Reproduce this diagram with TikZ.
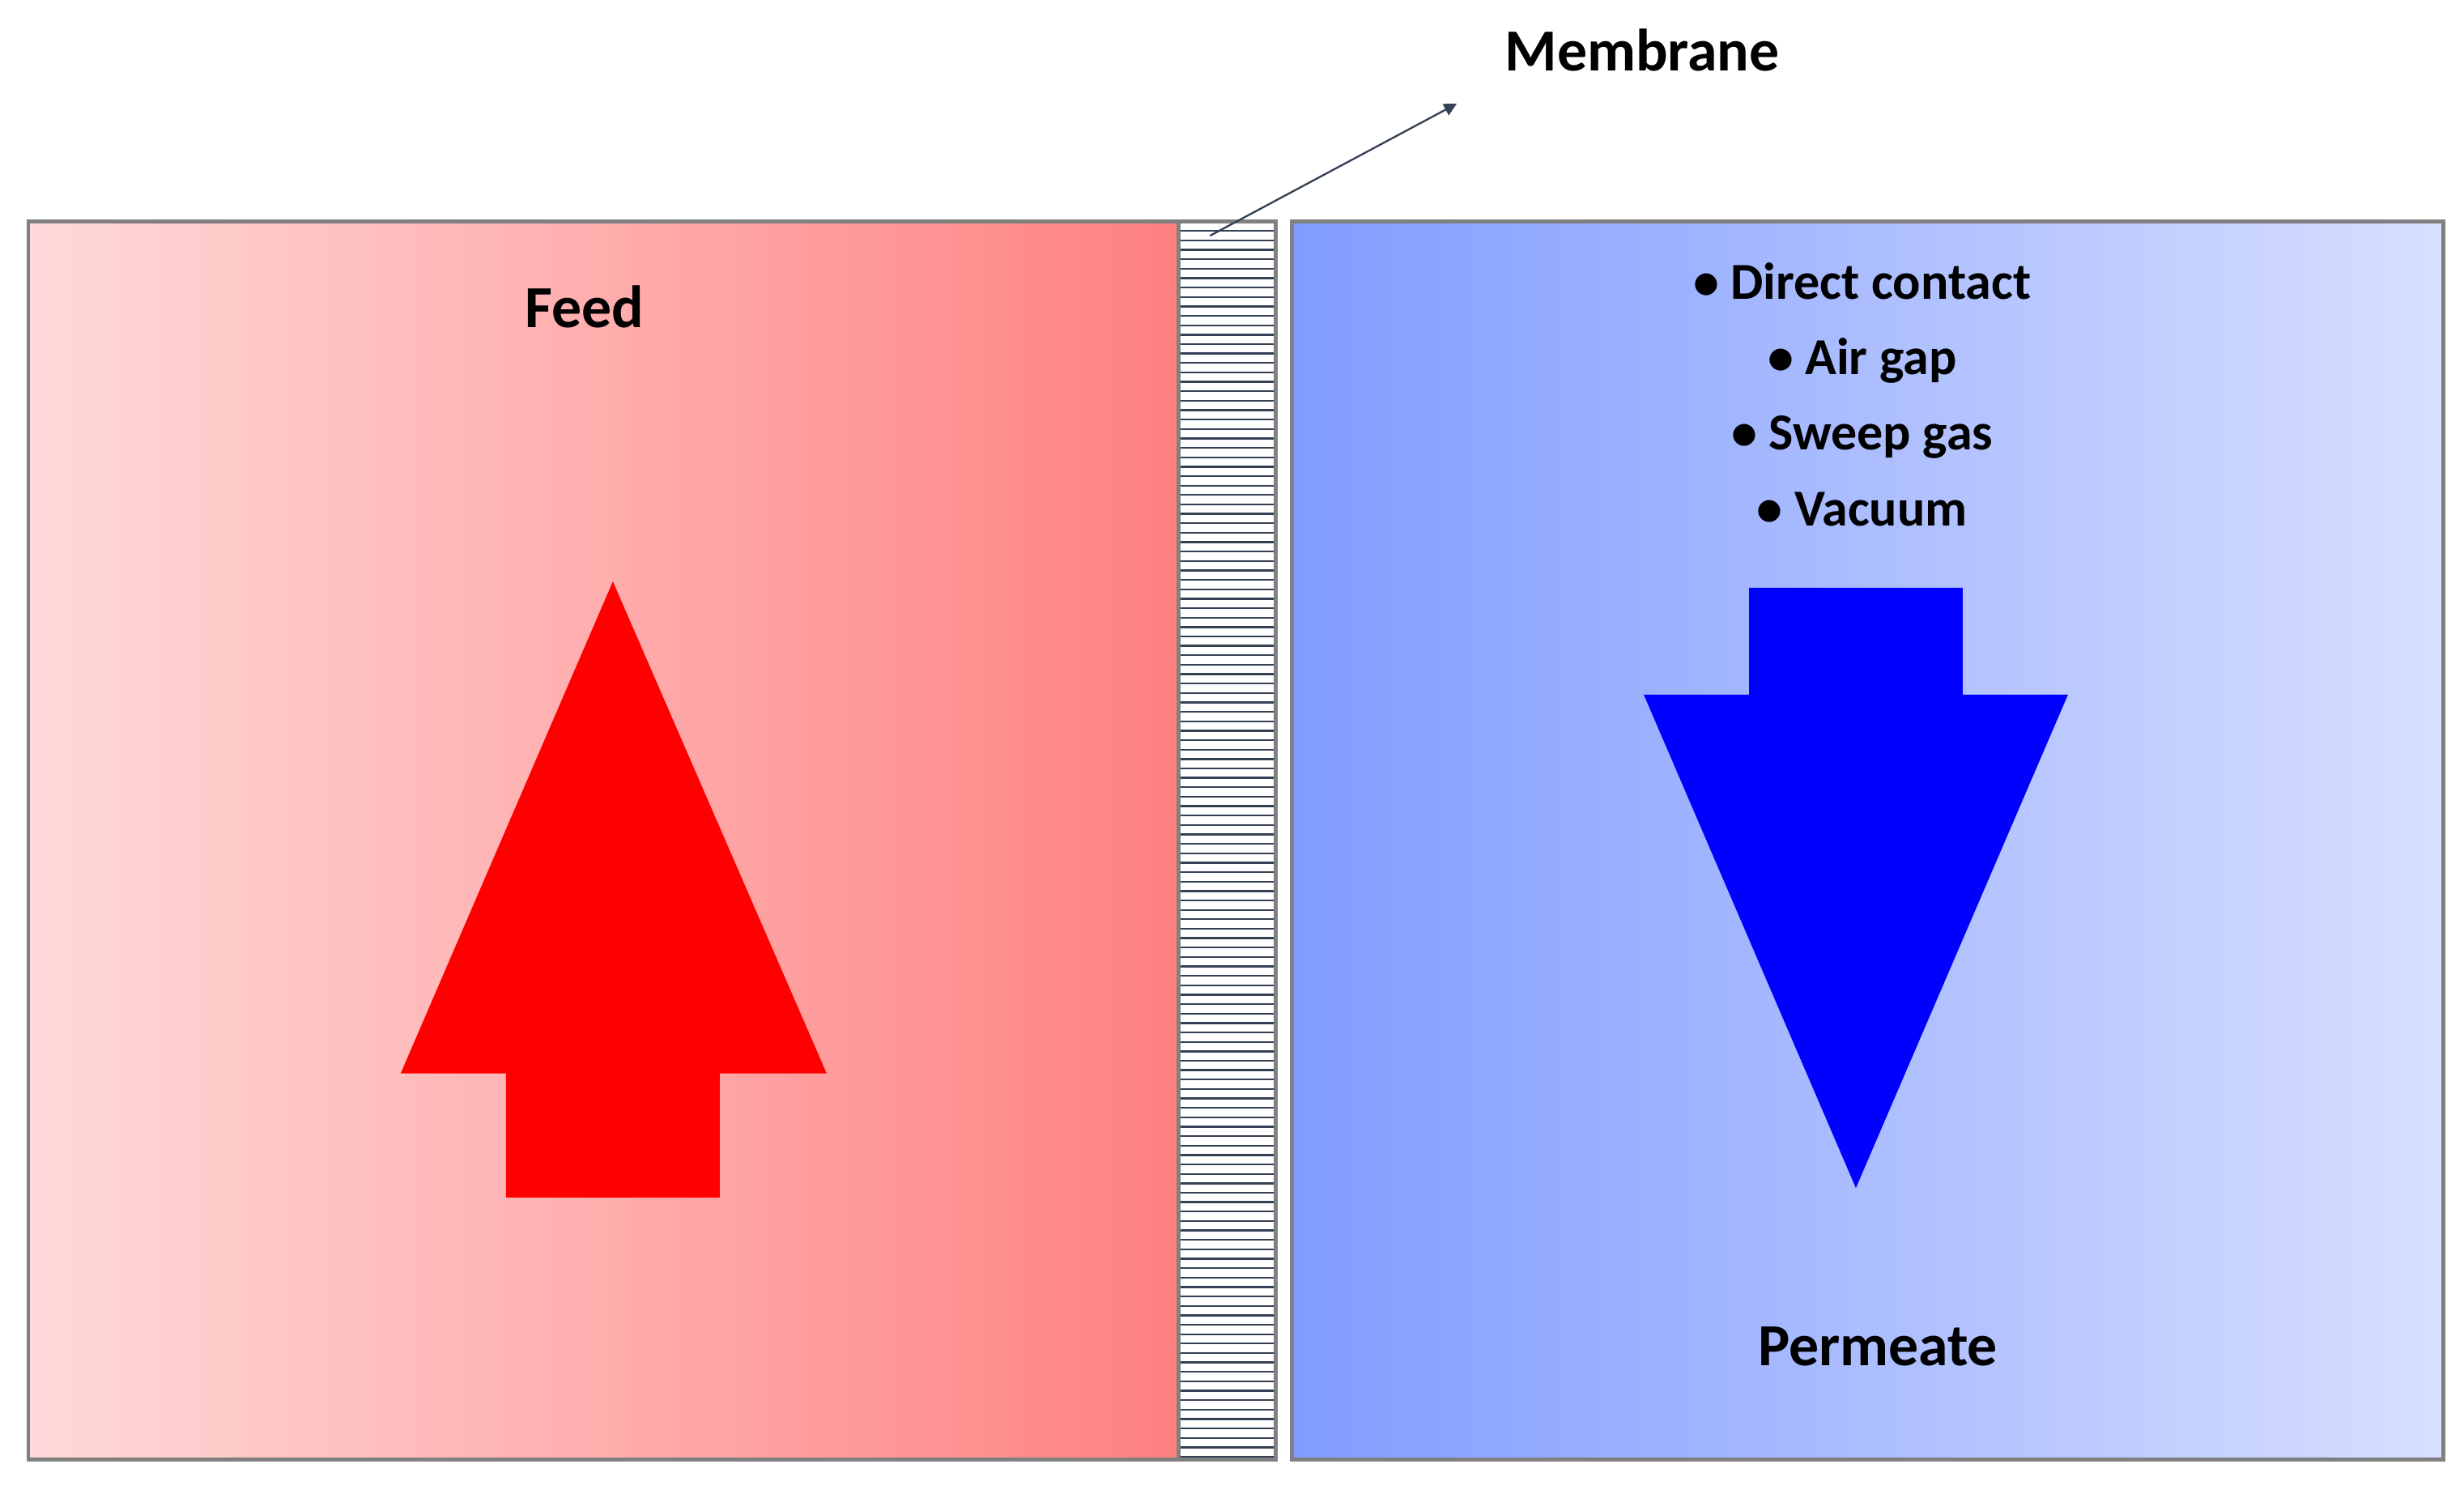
\documentclass[tikz,border=0pt]{standalone}
\usepackage{fontspec}
\setmainfont{Carlito}
\usetikzlibrary{arrows.meta}
\definecolor{edge}{RGB}{128,128,128}
\definecolor{slate}{RGB}{52,64,84}
\definecolor{feedL}{RGB}{255,218,218}
\definecolor{feedR}{RGB}{255,128,128}
\definecolor{permL}{RGB}{128,156,255}
\definecolor{permR}{RGB}{216,223,255}
\tikzset{box/.style={draw=edge,line width=2.5pt},
 lbl/.style={font=\bfseries\fontsize{38}{46}\selectfont,inner sep=0pt}}
\begin{document}
\begin{tikzpicture}[x=1pt,y=-1pt]
\useasboundingbox (0,0) rectangle (1568,953);
\shade[left color=feedL,right color=feedR] (18,141) rectangle (750,929);
\draw[box] (18,141) rectangle (750,929);
\shade[left color=permL,right color=permR] (822,141) rectangle (1555,929);
\draw[box] (822,141) rectangle (1555,929);
\fill[white] (750,141) rectangle (812,929);
\foreach \i in {0,...,130} \draw[slate,line width=1.2pt] (751,147+\i*6) -- (811,147+\i*6);
\draw[box] (750,141) rectangle (812,929);
\node[lbl] (feed) at (372,195) {Feed};
\node[lbl] (perm) at (1195,857) {Permeate};
\node[lbl] (mem) at (1045,32) {Membrane};
\coordinate (m) at (770,150);
\coordinate (mt) at (927,66);
\draw[slate,line width=1.2pt,-{Triangle[length=8pt,width=8pt]}] (m) -- (mt);
\node[lbl,font=\bfseries\fontsize{33}{48}\selectfont,align=center] (list) at (1185,251)
 {\textbullet\ Direct contact\\ \textbullet\ Air gap\\ \textbullet\ Sweep gas\\ \textbullet\ Vacuum};
\fill[red] (390,370) -- (526,683) -- (458,683) -- (458,762) -- (322,762) -- (322,683) -- (255,683) -- cycle;
\fill[blue] (1181,756) -- (1316,442) -- (1249,442) -- (1249,374) -- (1113,374) -- (1113,442) -- (1046,442) -- cycle;
\end{tikzpicture}
\end{document}
